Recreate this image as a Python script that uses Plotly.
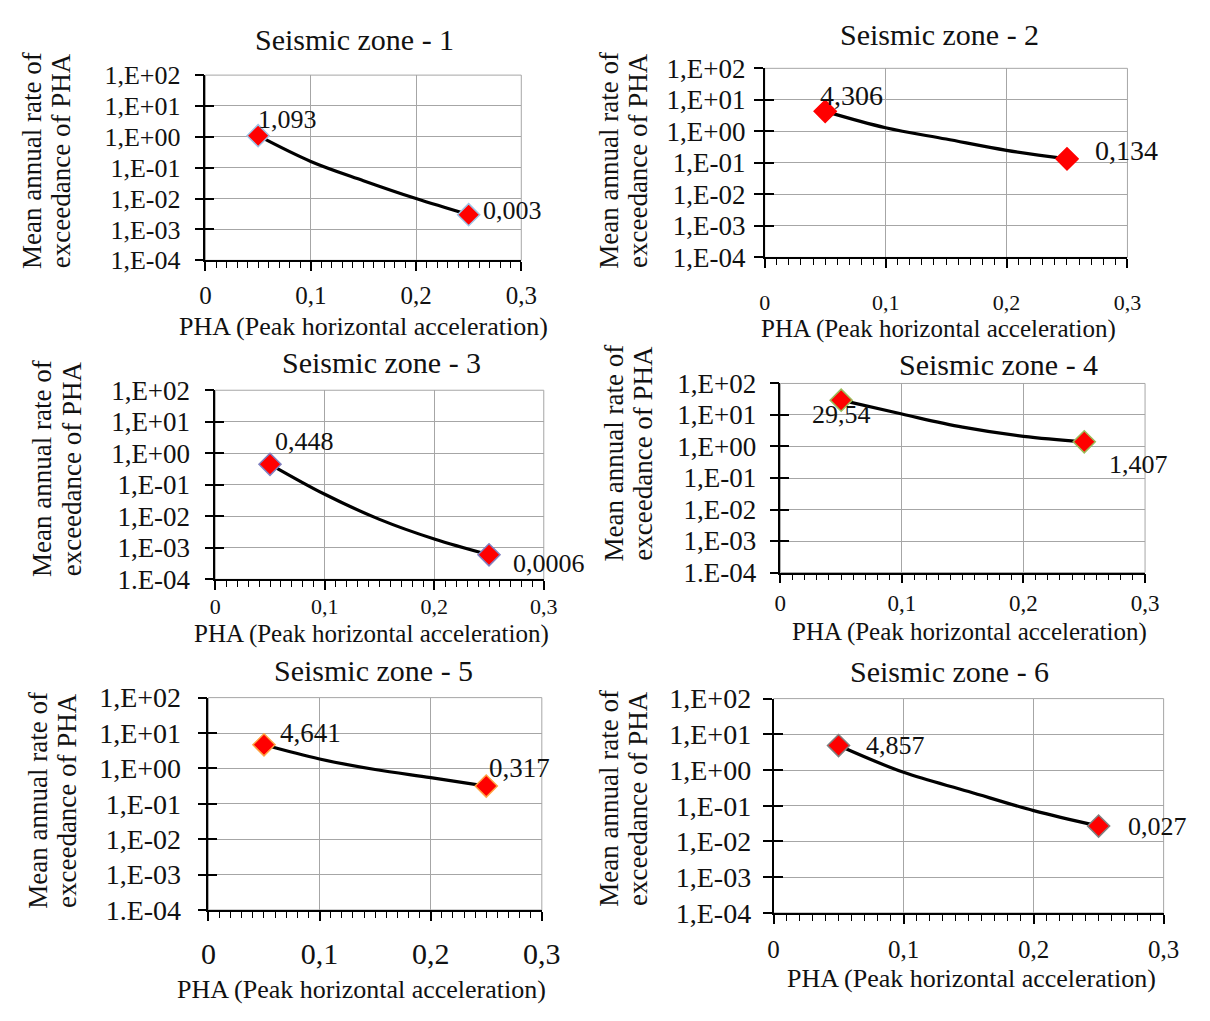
import math
import plotly.graph_objects as go

W, H = 1210, 1021

# ---------------- data ----------------
zone_titles = ["Seismic zone - 1", "Seismic zone - 2", "Seismic zone - 3",
               "Seismic zone - 4", "Seismic zone - 5", "Seismic zone - 6"]
pha_points = [0.05, 0.25]
rate_z1 = [1.093, 0.003]
rate_z2 = [4.306, 0.134]
rate_z3 = [0.448, 0.0006]
rate_z4 = [29.54, 1.407]
rate_z5 = [4.641, 0.317]
rate_z6 = [4.857, 0.027]
label_z1 = ["1,093", "0,003"]
label_z2 = ["4,306", "0,134"]
label_z3 = ["0,448", "0,0006"]
label_z4 = ["29,54", "1,407"]
label_z5 = ["4,641", "0,317"]
label_z6 = ["4,857", "0,027"]

# hazard curve
curve_pha = [0.05, 0.10, 0.15, 0.20, 0.25]
curve_z1 = [1.093, 0.16, 0.038, 0.0100, 0.003]
curve_z2 = [4.306, 1.30, 0.57, 0.25, 0.134]
curve_z3 = [0.448, 0.050, 0.008, 0.0019, 0.0006]
curve_z4 = [29.54, 10.7, 4.1, 2.1, 1.407]
curve_z5 = [4.641, 1.84, 0.93, 0.55, 0.317]
curve_z6 = [4.857, 0.86, 0.25, 0.073, 0.027]

x_tickvals = [0, 0.1, 0.2, 0.3]
x_ticktext = ["0", "0,1", "0,2", "0,3"]
y_tickvals = [1e-4, 1e-3, 1e-2, 1e-1, 1e0, 1e1, 1e2]
y_ticktext_a = ["1,E-04", "1,E-03", "1,E-02", "1,E-01", "1,E+00", "1,E+01", "1,E+02"]
y_ticktext_b = ["1.E-04", "1,E-03", "1,E-02", "1,E-01", "1,E+00", "1,E+01", "1,E+02"]

x_title = "PHA (Peak horizontal acceleration)"
y_title_lines = ["Mean annual rate of", "exceedance of PHA"]

rates = [rate_z1, rate_z2, rate_z3, rate_z4, rate_z5, rate_z6]
labels = [label_z1, label_z2, label_z3, label_z4, label_z5, label_z6]
curves = [curve_z1, curve_z2, curve_z3, curve_z4, curve_z5, curve_z6]
y_ticktexts = [y_ticktext_a, y_ticktext_a, y_ticktext_b, y_ticktext_b, y_ticktext_b, y_ticktext_a]

# ---------------- layout / style ----------------
# plot boxes in pixels: left, right, top, bottom
boxes = [(202, 525, 62, 253), (774, 1145, 55, 250),
         (212, 548, 387, 582), (790, 1163, 380, 575),
         (205, 546, 704, 923), (783, 1182, 705, 926)]
title_pos = [(354, 25), (953, 20), (382, 358), (1013, 360), (374, 676), (963, 677)]
xtitle_pos = [(364, 321), (952, 324), (372, 638), (983, 636), (362, 1005), (985, 994)]
xtitle_size = [26, 25, 25, 25, 26, 26]
ytitle_pos = [(40, 150), (630, 150), (50, 468), (635, 452), (46, 810), (630, 808)]
xlabel_standoff = [3, 15, -2, 0, 7, 4]
ylabel_standoff = [9, 3, 9, 8, 11, 6]
xtick_size = [25, 22, 22, 23, 30, 25]
ytick_size = [26, 27, 27, 27, 28, 28]
label_size = [26, 28, 26, 26, 27, 26]
label_shift = [[(29, 16), (44, 4)], [(26, 16), (60, 8)], [(34, 23), (60, -9)],
               [(0, -14), (54, -23)], [(47, 12), (33, 18)], [(57, 0), (59, 0)]]
marker_edge = ["#9dc3e6", "#ff0000", "#8080c0", "#9bbb59", "#ffa040", "#808080"]

FONT = "Liberation Serif, Times New Roman, serif"
GRID = "#a6a6a6"
TXT = "#111111"

fig = go.Figure()
annotations = []
shapes = []


def px_x(p):
    return p / W


def px_y(p):
    return 1 - p / H


for i in range(6):
    n = i + 1
    xa = "x" if n == 1 else f"x{n}"
    ya = "y" if n == 1 else f"y{n}"
    ya2 = f"y{n + 6}"
    l, r, t, b = boxes[i]

    fig.add_trace(go.Scatter(
        x=curve_pha, y=curves[i], mode="lines",
        line=dict(color="black", width=3.2, shape="spline"),
        xaxis=xa, yaxis=ya, showlegend=False, hoverinfo="skip"))
    fig.add_trace(go.Scatter(
        x=pha_points, y=rates[i], mode="markers",
        marker=dict(symbol="diamond", size=17, color="#ff0000",
                    line=dict(color=marker_edge[i], width=1.5)),
        xaxis=xa, yaxis=ya, showlegend=False))
    # invisible copy to carry the inner half of the crossing y ticks
    fig.add_trace(go.Scatter(
        x=pha_points, y=rates[i], mode="markers", marker=dict(opacity=0),
        xaxis=xa, yaxis=ya2, showlegend=False, hoverinfo="skip"))

    axis_x = dict(
        domain=[px_x(l), px_x(r)], range=[0, 0.3], anchor=ya,
        tickvals=x_tickvals, ticktext=x_ticktext,
        ticks="outside", ticklen=9, tickwidth=1.5, tickcolor="black",
        ticklabelstandoff=xlabel_standoff[i],
        showline=True, linecolor="black", linewidth=1.5,
        showgrid=True, gridcolor=GRID, gridwidth=1, zeroline=False,
        tickfont=dict(family=FONT, size=xtick_size[i], color=TXT),
        minor=dict(dtick=0.01, ticks="outside", ticklen=6, tickcolor="black",
                   tickwidth=1, showgrid=False),
        fixedrange=True)
    axis_y = dict(
        domain=[px_y(b), px_y(t)], type="log", range=[-4, 2], anchor=xa,
        tickvals=y_tickvals, ticktext=y_ticktexts[i],
        ticks="outside", ticklen=9, tickwidth=1.5, tickcolor="black",
        ticklabelstandoff=ylabel_standoff[i],
        showline=True, linecolor="black", linewidth=1.5,
        showgrid=True, gridcolor=GRID, gridwidth=1, zeroline=False,
        tickfont=dict(family=FONT, size=ytick_size[i], color=TXT),
        fixedrange=True)
    axis_y2 = dict(
        overlaying=ya, type="log", range=[-4, 2], anchor=xa,
        tickvals=y_tickvals, ticks="inside", ticklen=9, tickwidth=1.5,
        tickcolor="black", showticklabels=False, showline=False,
        showgrid=False, zeroline=False, fixedrange=True)
    fig.update_layout(**{("xaxis" if n == 1 else f"xaxis{n}"): axis_x,
                         ("yaxis" if n == 1 else f"yaxis{n}"): axis_y,
                         f"yaxis{n + 6}": axis_y2})

    # gray frame on top / right (Excel plot-area border)
    shapes.append(dict(type="rect", xref=f"{xa} domain", yref=f"{ya} domain",
                       x0=0, x1=1, y0=0, y1=1, line=dict(color=GRID, width=1),
                       layer="below"))

    # value labels
    for j in range(2):
        dx, dy = label_shift[i][j]
        annotations.append(dict(
            x=pha_points[j], y=math.log10(rates[i][j]), xref=xa, yref=ya,
            text=labels[i][j], showarrow=False, xshift=dx, yshift=dy,
            font=dict(family=FONT, size=label_size[i], color=TXT)))

    tx, ty = title_pos[i]
    annotations.append(dict(x=px_x(tx), y=px_y(ty), xref="paper", yref="paper",
                            text=zone_titles[i], showarrow=False,
                            xanchor="center", yanchor="middle",
                            font=dict(family=FONT, size=30, color=TXT)))
    xx, xy = xtitle_pos[i]
    annotations.append(dict(x=px_x(xx), y=px_y(xy), xref="paper", yref="paper",
                            text=x_title, showarrow=False,
                            xanchor="center", yanchor="middle",
                            font=dict(family=FONT, size=xtitle_size[i], color=TXT)))
    yx, yy = ytitle_pos[i]
    for k, line in enumerate(y_title_lines):
        annotations.append(dict(x=px_x(yx - 15 + 30 * k), y=px_y(yy),
                                xref="paper", yref="paper",
                                text=line, showarrow=False, textangle=-90,
                                xanchor="center", yanchor="middle",
                                font=dict(family=FONT, size=27, color=TXT)))

fig.update_layout(
    width=W, height=H, margin=dict(l=0, r=0, t=0, b=0),
    paper_bgcolor="white", plot_bgcolor="white",
    annotations=annotations, shapes=shapes, showlegend=False)

fig.write_html("out.html", config={"displayModeBar": False},
               post_script="document.body.style.margin='0';"
                           "document.body.style.overflow='hidden';")
